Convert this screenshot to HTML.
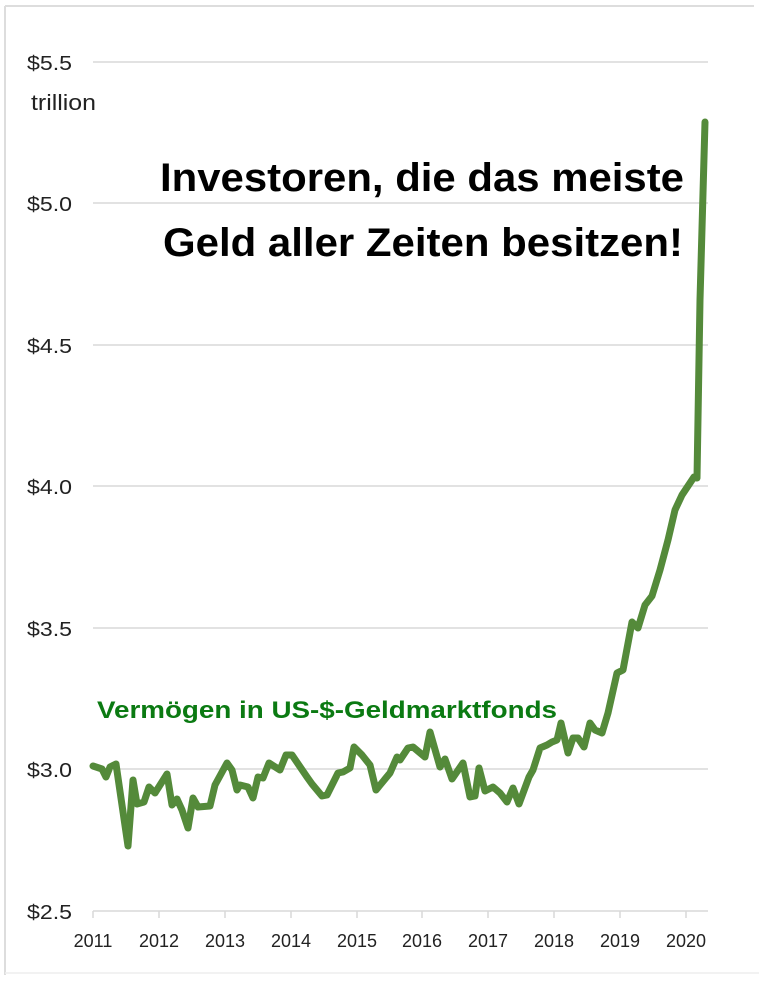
<!DOCTYPE html>
<html><head><meta charset="utf-8"><style>
html,body{margin:0;padding:0;background:#fff;}
svg{display:block;}
</style></head><body>
<svg width="759" height="982" viewBox="0 0 759 982" xmlns="http://www.w3.org/2000/svg" font-family="'Liberation Sans', sans-serif">
<rect x="0" y="0" width="759" height="982" fill="#fff"/>
<line x1="5" y1="6" x2="754" y2="6" stroke="#ddd" stroke-width="2"/>
<line x1="5" y1="6" x2="5" y2="975" stroke="#ddd" stroke-width="2"/>
<line x1="5" y1="973" x2="759" y2="973" stroke="#eee" stroke-width="1.5"/>
<g stroke="#d9d9d9" stroke-width="1.5">
<line x1="93" y1="62" x2="708" y2="62"/>
<line x1="93" y1="203" x2="708" y2="203"/>
<line x1="93" y1="345" x2="708" y2="345"/>
<line x1="93" y1="486" x2="708" y2="486"/>
<line x1="93" y1="628" x2="708" y2="628"/>
<line x1="93" y1="769" x2="708" y2="769"/>
<line x1="93" y1="911" x2="708" y2="911"/>
<line x1="93" y1="911" x2="93" y2="918"/><line x1="159" y1="911" x2="159" y2="918"/>
<line x1="225" y1="911" x2="225" y2="918"/><line x1="291" y1="911" x2="291" y2="918"/>
<line x1="357" y1="911" x2="357" y2="918"/><line x1="422" y1="911" x2="422" y2="918"/>
<line x1="488" y1="911" x2="488" y2="918"/><line x1="554" y1="911" x2="554" y2="918"/>
<line x1="620" y1="911" x2="620" y2="918"/><line x1="686" y1="911" x2="686" y2="918"/>
</g>
<g fill="#222" font-size="20">
<text x="27" y="70" textLength="45" lengthAdjust="spacingAndGlyphs">$5.5</text>
<text x="31" y="110" font-size="22" textLength="65" lengthAdjust="spacingAndGlyphs">trillion</text>
<text x="27" y="211" textLength="45" lengthAdjust="spacingAndGlyphs">$5.0</text>
<text x="27" y="353" textLength="45" lengthAdjust="spacingAndGlyphs">$4.5</text>
<text x="27" y="494" textLength="45" lengthAdjust="spacingAndGlyphs">$4.0</text>
<text x="27" y="636" textLength="45" lengthAdjust="spacingAndGlyphs">$3.5</text>
<text x="27" y="777" textLength="45" lengthAdjust="spacingAndGlyphs">$3.0</text>
<text x="27" y="919" textLength="45" lengthAdjust="spacingAndGlyphs">$2.5</text>
</g>
<g fill="#222" font-size="18" text-anchor="middle">
<text x="93" y="947">2011</text><text x="159" y="947">2012</text><text x="225" y="947">2013</text>
<text x="291" y="947">2014</text><text x="357" y="947">2015</text><text x="422" y="947">2016</text>
<text x="488" y="947">2017</text><text x="554" y="947">2018</text><text x="620" y="947">2019</text>
<text x="686" y="947">2020</text>
</g>
<g font-weight="bold" fill="#000" font-size="40">
<text x="160" y="191" textLength="524" lengthAdjust="spacingAndGlyphs">Investoren, die das meiste</text>
<text x="163" y="256" textLength="520" lengthAdjust="spacingAndGlyphs">Geld aller Zeiten besitzen!</text>
</g>
<text x="97" y="718" font-weight="bold" font-size="24" fill="#0b7a12" textLength="460" lengthAdjust="spacingAndGlyphs">Vermögen in US-$-Geldmarktfonds</text>
<polyline fill="none" stroke="#548a3a" stroke-width="7" stroke-linejoin="round" stroke-linecap="round" points="
93,766 102,769 106,777 110,767 116,764 128,846 133,780 137,804 144,802 149,787 155,793 167,774 172,805 177,799 182,810 188,828 193,798 198,807 210,806 215,785 227,763 232,770 237,790 240,785 248,787 253,798 258,777 263,778 269,763 280,770 286,755 292,755 307,777 312,784 322,796 327,795 338,773 343,772 350,768 354,747 362,755 370,765 376,790 390,773 397,757 400,760 408,748 413,747 425,757 430,732 440,767 445,759 452,779 463,763 470,797 475,796 479,768 485,791 493,787 500,793 507,802 513,788 519,804 529,777 533,770 540,748 547,745 552,742 557,740 561,723 568,753 573,738 578,738 584,747 590,723 595,730 602,733 608,713 617,673 623,670 632,622 638,628 645,605 652,596 660,570 668,540 675,510 682,495 690,483 694,477 697,478 700,300 705,122"/>
</svg>
</body></html>
